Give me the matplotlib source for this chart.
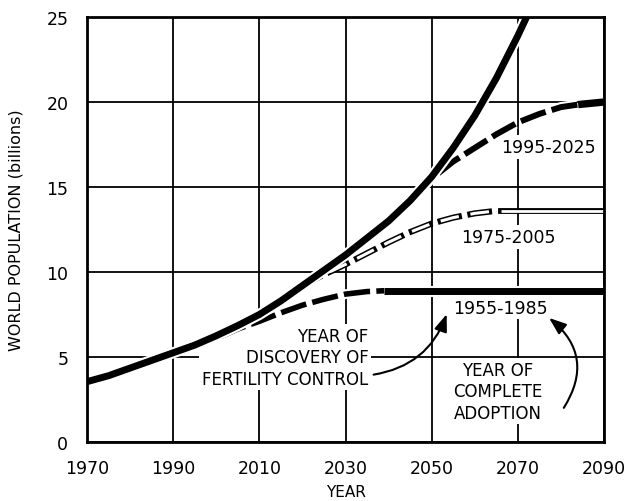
import matplotlib
matplotlib.use("Agg")
import matplotlib.pyplot as plt
import matplotlib.patheffects as pe

plt.rcParams["font.family"] = ["DejaVu Sans"]
plt.rcParams["lines.scale_dashes"] = False

# Uncontrolled growth curve (billions).
years_main = [1970, 1975, 1980, 1985, 1990, 1995, 2000, 2005, 2010, 2015, 2020,
              2025, 2030, 2035, 2040, 2045, 2050, 2055, 2060, 2065, 2070, 2075]
pop_main = [3.55, 3.9, 4.35, 4.8, 5.25, 5.7, 6.25, 6.85, 7.5, 8.3, 9.2,
            10.1, 11.0, 12.0, 13.0, 14.2, 15.6, 17.3, 19.2, 21.4, 23.9, 26.6]

# Scenario 1955-1985.
years_a = [2001, 2005, 2010, 2015, 2020, 2025, 2030, 2035, 2039, 2090]
pop_a = [6.2, 6.65, 7.1, 7.6, 8.05, 8.4, 8.7, 8.85, 8.9, 8.9]
flat_a = 2039

# Scenario 1975-2005.
years_b = [2020, 2025, 2030, 2035, 2040, 2045, 2050, 2055, 2060, 2065, 2066, 2090]
pop_b = [9.2, 9.85, 10.45, 11.1, 11.75, 12.35, 12.85, 13.2, 13.45, 13.6, 13.6, 13.6]
flat_b = 2066

# Scenario 1995-2025.
years_c = [2046, 2050, 2055, 2060, 2065, 2070, 2075, 2080, 2084, 2090]
pop_c = [14.5, 15.5, 16.5, 17.3, 18.1, 18.8, 19.3, 19.7, 19.85, 20.0]
flat_c = 2084

x_ticks = [1970, 1990, 2010, 2030, 2050, 2070, 2090]
y_ticks = [0, 5, 10, 15, 20, 25]

white_edge = lambda w: [pe.Stroke(linewidth=w, foreground="white"), pe.Normal()]


# Split a scenario into the transition part and the plateau part.
def split(years, pop, flat):
    first = [(x, y) for x, y in zip(years, pop) if x <= flat]
    second = [(x, y) for x, y in zip(years, pop) if x >= flat]
    return list(zip(*first)), list(zip(*second))


def draw_black_dashed(ax, years, pop, flat, lw) -> None:
    (x1, y1), (x2, y2) = split(years, pop, flat)
    ax.plot(x1, y1, color="black", lw=lw, dashes=(19, 4.5), zorder=3,
            path_effects=white_edge(lw + 3))
    ax.plot(x2, y2, color="black", lw=lw + 1, solid_capstyle="butt", zorder=3,
            path_effects=white_edge(lw + 4))


def draw_hollow_dashed(ax, years, pop, flat) -> None:
    (x1, y1), (x2, y2) = split(years, pop, flat)
    ax.plot(x1, y1, color="black", lw=4.4, dashes=(13.5, 8.5),
            dash_capstyle="projecting", zorder=3)
    ax.plot(x1, y1, color="white", lw=2.2, dashes=(13.5, 8.5),
            dash_capstyle="butt", zorder=3.1)
    ax.plot(x2, y2, color="black", lw=4.2, solid_capstyle="projecting", zorder=3)
    ax.plot(x2, y2, color="white", lw=2.0, solid_capstyle="butt", zorder=3.1)


def main() -> None:
    fig = plt.figure(figsize=(6.31, 5.02), dpi=100)
    ax = fig.add_axes([0.1379, 0.1175, 0.8193, 0.8466])

    draw_black_dashed(ax, years_a, pop_a, flat_a, 4.0)
    draw_hollow_dashed(ax, years_b, pop_b, flat_b)
    draw_black_dashed(ax, years_c, pop_c, flat_c, 4.3)
    ax.plot(years_main, pop_main, color="black", lw=5, solid_capstyle="butt",
            zorder=4, path_effects=white_edge(8))

    ax.set_xlim(1970, 2090)
    ax.set_ylim(0, 25)
    ax.set_xticks(x_ticks)
    ax.set_yticks(y_ticks)
    ax.tick_params(length=0, labelsize=12.5)
    ax.tick_params(axis="x", pad=12)
    ax.tick_params(axis="y", pad=13.5)
    ax.set_axisbelow(True)
    ax.grid(True, color="black", lw=1.3)
    for s in ax.spines.values():
        s.set_linewidth(2)
        s.set_zorder(6)

    ax.set_xlabel("YEAR", fontsize=11)
    ax.set_ylabel("WORLD POPULATION (billions)", fontsize=11.5)
    ax.xaxis.set_label_coords(0.5, -0.098)
    ax.yaxis.set_label_coords(-0.122, 0.5)

    # white boxes break the grid lines behind the labels, as in the original
    box = dict(facecolor="white", edgecolor="none", pad=2)
    ax.text(2077, 17.35, "1995-2025", fontsize=12.5, ha="center", va="center",
            bbox=box, zorder=2.5)
    ax.text(2067.7, 12.06, "1975-2005", fontsize=12.5, ha="center", va="center",
            bbox=box, zorder=2.5)
    ax.text(2066, 7.9, "1955-1985", fontsize=12.5, ha="center", va="center",
            bbox=box, zorder=2.5)
    ax.text(2035.3, 5.0, "YEAR OF\nDISCOVERY OF\nFERTILITY CONTROL", fontsize=12,
            ha="right", va="center", multialignment="right", linespacing=1.25,
            bbox=box, zorder=2.5)
    ax.text(2065.4, 3.0, "YEAR OF\nCOMPLETE\nADOPTION", fontsize=12,
            ha="center", va="center", multialignment="center", linespacing=1.25,
            bbox=box, zorder=2.5)

    arrow = dict(arrowstyle="-|>,head_length=0.8,head_width=0.3", color="black",
                 lw=1.5, mutation_scale=13, shrinkA=1, shrinkB=1)
    ax.annotate("", xy=(2053.6, 7.6), xytext=(2036.2, 3.95),
                arrowprops=dict(arrow, connectionstyle="arc3,rad=0.3"), zorder=6)
    ax.annotate("", xy=(2077, 7.35), xytext=(2080.5, 1.94),
                arrowprops=dict(arrow, connectionstyle="arc3,rad=0.45"), zorder=6)

    fig.savefig("out.png", dpi=100)


if __name__ == "__main__":
    main()
